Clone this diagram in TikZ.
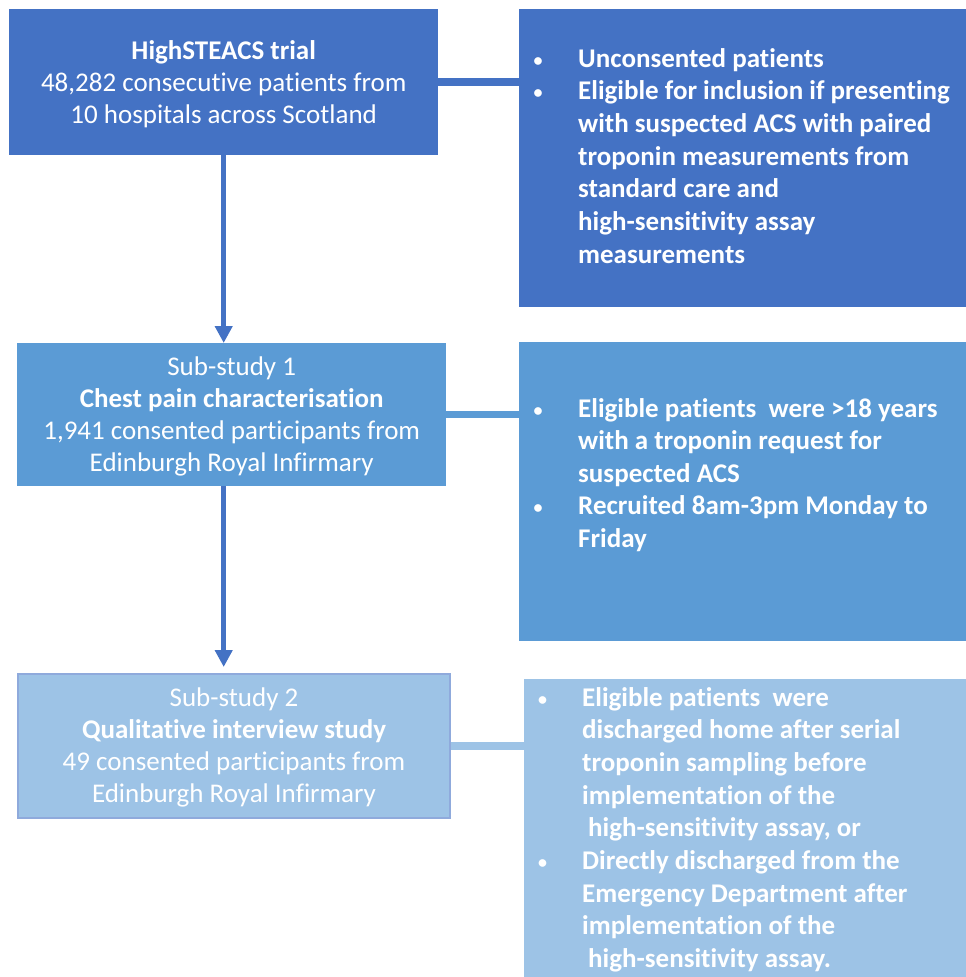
\documentclass[tikz,border=0pt]{standalone}
\usepackage{fontspec}
\setmainfont{Carlito}[Ligatures=NoCommon]
\usetikzlibrary{arrows.meta}
\definecolor{cdark}{HTML}{4472C4}
\definecolor{cmid}{HTML}{5B9BD5}
\definecolor{clight}{HTML}{9DC3E6}
\definecolor{cedge}{HTML}{8FAADC}
\newcommand\smbullet{\raisebox{1pt}{\fontsize{18}{18}\selectfont\textbullet}}
\newcommand\bul[3]{\par\noindent\hangindent=#1\hangafter=1\makebox[#1][l]{\hspace{#2}\smbullet}#3}
\newcommand\topstrut{\rule{0pt}{22pt}}
\begin{document}
\begin{tikzpicture}[x=1pt,y=-1pt,
  box/.style={rectangle, inner sep=0pt, anchor=north west, text=white, align=center,
    font=\fontsize{27}{32}\selectfont},
  rtext/.style={inner sep=0pt, anchor=base west, text=white},
  hline/.style={line width=7.5pt},
  arrowline/.style={draw=cdark, line width=5pt, -{Triangle[width=17pt,length=17pt]}}]
\useasboundingbox (0,0) rectangle (966,977);
% left boxes
\node[box, fill=cdark, minimum width=429pt, minimum height=146pt] (b1) at (9,9)
  {\topstrut\textbf{HighSTEACS trial}\\48,282 consecutive patients from\\10 hospitals across Scotland};
\node[box, fill=cmid, minimum width=429pt, minimum height=143pt] (b2) at (17,343)
  {\topstrut Sub-study 1\\\textbf{Chest pain characterisation}\\1,941 consented participants from\\Edinburgh Royal Infirmary};
\node[box, fill=clight, draw=cedge, line width=2pt, minimum width=432pt, minimum height=144pt] (b3) at (17,673)
  {\topstrut Sub-study 2\\\textbf{Qualitative interview study}\\49 consented participants from\\Edinburgh Royal Infirmary};
% right boxes
\node[box, fill=cdark, minimum width=447pt, minimum height=298pt] (r1) at (519,9) {};
\node[box, fill=cmid, minimum width=447pt, minimum height=299pt] (r2) at (519,342) {};
\node[box, fill=clight, minimum width=442pt, minimum height=298pt] (r3) at (524,679) {};
% right texts
\node[rtext] (r1t) at (519,67) {\begin{minipage}[t]{440pt}\fontsize{27}{32.7}\selectfont\bfseries
  \bul{59pt}{14.5pt}{Unconsented patients}
  \bul{59pt}{14.5pt}{Eligible for inclusion if presenting\\with suspected ACS with paired\\troponin measurements from\\standard care and\\high-sensitivity assay\\measurements}
  \end{minipage}};
\node[rtext] (r2t) at (519,417) {\begin{minipage}[t]{440pt}\fontsize{27}{32.5}\selectfont\bfseries
  \bul{59pt}{14.5pt}{Eligible patients\ \ were >18 years\\with a troponin request for\\suspected ACS}
  \bul{59pt}{14.5pt}{Recruited 8am-3pm Monday to\\Friday}
  \end{minipage}};
\node[rtext] (r3t) at (524,706) {\begin{minipage}[t]{436pt}\fontsize{27}{32.7}\selectfont\bfseries
  \bul{58pt}{14pt}{Eligible patients\ \ were\\discharged home after serial\\troponin sampling before\\implementation of the\\\hspace*{6pt}high-sensitivity assay, or}
  \bul{58pt}{14pt}{Directly discharged from the\\Emergency Department after\\implementation of the\\\hspace*{6pt}high-sensitivity assay.}
  \end{minipage}};
% connectors
\draw[hline, cdark, line width=8pt] (b1.east) -- (b1.east -| r1.west);
\draw[hline, cmid] (b2.east) -- (b2.east -| r2.west);
\draw[hline, clight] (b3.east) -- (b3.east -| r3.west);
\draw[arrowline] (b1.south) -- (b1.south |- b2.north);
\draw[arrowline] (b1.south |- b2.south) -- ([yshift=6pt]b1.south |- b3.north);
\end{tikzpicture}
\end{document}
